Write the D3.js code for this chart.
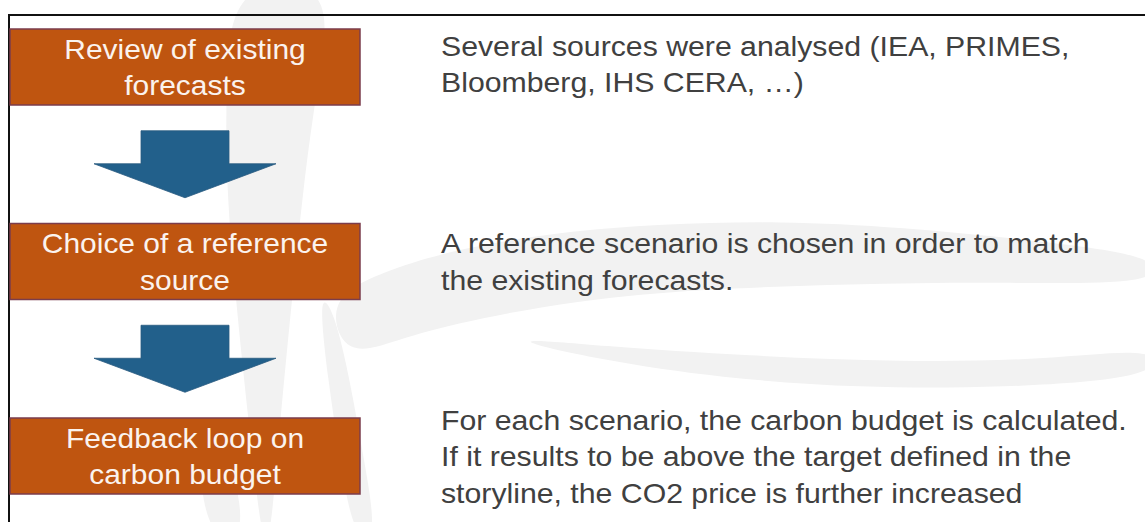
<!DOCTYPE html>
<html>
<head>
<meta charset="utf-8">
<script src="https://cdn.jsdelivr.net/npm/d3@7"></script>
<style>
  html, body { margin: 0; padding: 0; background: #fff; }
  svg { display: block; }
  text { font-family: "Liberation Sans", Arial, sans-serif; }
</style>
</head>
<body>
<div id="chart"></div>
<script>
// steps of the process (left boxes), one entry per line
var stepLines = [
	["Review of existing", "forecasts"],
	["Choice of a reference", "source"],
	["Feedback loop on", "carbon budget"]
];

// explanation next to each step
var noteLines = [
	["Several sources were analysed (IEA, PRIMES,", "Bloomberg, IHS CERA, \u2026)"],
	["A reference scenario is chosen in order to match", "the existing forecasts."],
	["For each scenario, the carbon budget is calculated.", "If it results to be above the target defined in the", "storyline, the CO2 price is further increased"]
];

var width = 1145, height = 522;

var svg = d3.select('#chart')
			.append('svg')
			.attr('width', width)
			.attr('height', height);

// faint watermark swooshes in the background
var bgLine = d3.line().curve(d3.curveBasisClosed);
var swooshes = [
	[[232,-20],[336,-20],[318,80],[304,180],[294,280],[284,380],[276,470],[270,540],[262,540],[254,470],[244,380],[234,280],[226,180],[226,80]],
	[[318,290],[334,310],[350,380],[364,460],[378,540],[354,540],[340,460],[328,380]],
	[[196,440],[220,428],[236,480],[246,540],[206,540]],
	[[326,300],[380,272],[460,248],[560,232],[660,224],[780,221],[900,227],[1040,241],[1160,256],[1160,285],[1000,282],[850,284],[700,289],[580,300],[480,318],[400,338],[345,360]],
	[[496,336],[600,346],[750,356],[900,362],[1050,360],[1160,346],[1160,378],[1000,388],[860,388],[720,378],[600,360]]
];
svg.append('g')
	.selectAll('path')
	.data(swooshes)
	.enter()
	.append('path')
	.attr('d', bgLine)
	.attr('fill', '#f2f2f2');

// frame lines (top and left)
svg.append('path')
	.attr('d', 'M9,522 V15 H1145')
	.attr('fill', 'none')
	.attr('stroke', '#111')
	.attr('stroke-width', 2);

var boxX = 10, boxW = 350, boxH = 76;
var cx = boxX + boxW / 2;
var lineH = 36.5;

var rowY = d3.scalePoint()
			 .domain(d3.range(stepLines.length))
			 .range([29, 418]);

// boxes
var rows = svg.selectAll('g.row')
			  .data(stepLines)
			  .enter()
			  .append('g')
			  .attr('class', 'row');

rows.append('rect')
	.attr('x', boxX)
	.attr('y', function(d, i) { return rowY(i); })
	.attr('width', boxW)
	.attr('height', boxH)
	.attr('fill', '#bf5510')
	.attr('stroke', '#7b3d4c')
	.attr('stroke-width', 1.5);

function writeLines(sel, lines, x, centerY, anchor, color, stretch) {
	var first = centerY - (lines.length - 1) * lineH / 2 + 10;
	lines.forEach(function(t, k) {
		sel.append('text')
		   .attr('transform', 'translate(' + x + ',' + (first + k * lineH) + ') scale(' + stretch + ',1)')
		   .attr('text-anchor', anchor)
		   .attr('font-size', 27.5)
		   .attr('fill', color)
		   .text(t);
	});
}

rows.each(function(d, i) {
	var g = d3.select(this);
	var mid = rowY(i) + boxH / 2;
	writeLines(g, d, cx, mid, 'middle', '#fbf3ee', 1.09);
	writeLines(g, noteLines[i], 441, mid - (i === 0 ? 3 : 0), 'start', '#404040', 1.1);
});

// arrows between boxes
var arrowH = 67, shaftW = 88, headW = 182, shaftH = 33;
var gaps = d3.pairs(d3.range(stepLines.length));
svg.selectAll('path.arrow')
	.data(gaps)
	.enter()
	.append('path')
	.attr('class', 'arrow')
	.attr('d', function(p) {
		var top = (rowY(p[0]) + boxH + rowY(p[1])) / 2 - arrowH / 2;
		var path = d3.path();
		path.moveTo(cx - shaftW / 2, top);
		path.lineTo(cx + shaftW / 2, top);
		path.lineTo(cx + shaftW / 2, top + shaftH);
		path.lineTo(cx + headW / 2, top + shaftH);
		path.lineTo(cx, top + arrowH);
		path.lineTo(cx - headW / 2, top + shaftH);
		path.lineTo(cx - shaftW / 2, top + shaftH);
		path.closePath();
		return path.toString();
	})
	.attr('fill', '#22608b')
	.attr('stroke', '#2a5a80')
	.attr('stroke-width', 0.8);
</script>
</body>
</html>
